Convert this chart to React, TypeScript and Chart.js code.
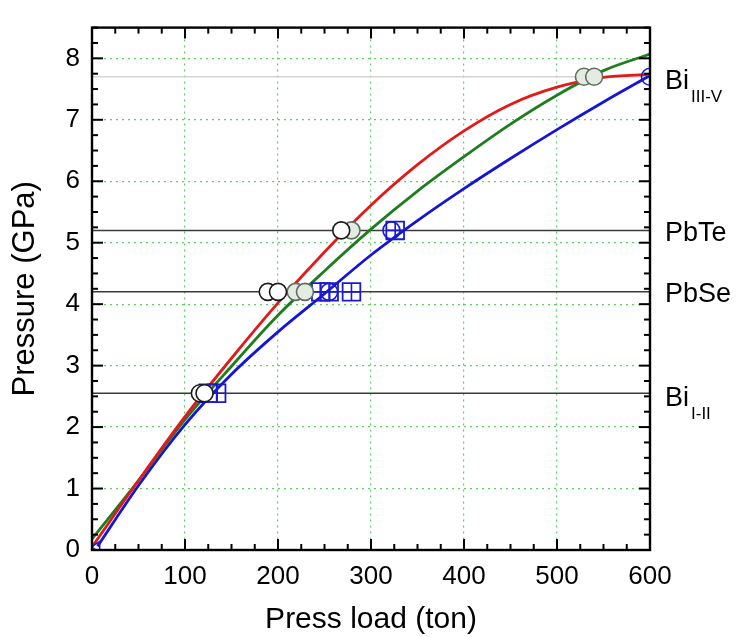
import React, { useEffect, useRef } from "react";
import { Chart, registerables } from "chart.js";
Chart.register(...registerables);

// ---------- data ----------
const curveLoads = [0, 50, 100, 150, 200, 250, 300, 350, 400, 450, 500, 550, 600];
const redPressure = [0.05, 1.13, 2.17, 3.12, 4.02, 4.85, 5.61, 6.27, 6.82, 7.25, 7.53, 7.69, 7.74];
const greenPressure = [0.18, 1.13, 2.12, 2.99, 3.82, 4.54, 5.22, 5.84, 6.4, 6.93, 7.4, 7.8, 8.07];
const blueLoads = [6, 50, 100, 150, 200, 250, 300, 350, 400, 450, 500, 550, 600];
const bluePressure = [0.06, 1.05, 2.04, 2.86, 3.55, 4.17, 4.8, 5.36, 5.88, 6.37, 6.84, 7.29, 7.72];

const blackCircleLoads = [116, 121, 189, 200, 268];
const blackCirclePressure = [2.55, 2.55, 4.2, 4.2, 5.2];
const greyCircleLoads = [219, 229, 279, 529, 540];
const greyCirclePressure = [4.2, 4.2, 5.2, 7.7, 7.7];
const blueSquareLoads = [125, 134, 246, 255, 279, 326];
const blueSquarePressure = [2.55, 2.55, 4.2, 4.2, 4.2, 5.2];
const blueCircleLoads = [255, 322, 600];
const blueCirclePressure = [4.2, 5.2, 7.7];
const originLoads = [5];
const originPressure = [0.05];

const refPressures = [7.7, 5.2, 4.2, 2.55];
const refColors = ["#d4d4d4", "#3a3a3a", "#3a3a3a", "#3a3a3a"];
const refMain = ["Bi", "PbTe", "PbSe", "Bi"];
const refSub = ["III-V", "", "", "I-II"];

const xTicks = [0, 100, 200, 300, 400, 500, 600];
const yTicks = [0, 1, 2, 3, 4, 5, 6, 7, 8];
const xMin = 0, xMax = 600, yMin = 0, yMax = 8.5;
const xMinorStep = 25, yMinorStep = 0.25;
const xTitle = "Press load (ton)";
const yTitle = "Pressure (GPa)";

const FONT = "'Liberation Sans', Arial, sans-serif";

const pts = (xs: number[], ys: number[]) => xs.map((x, i) => ({ x, y: ys[i] }));

const framePlugin = {
  id: "frameTicks",
  afterDraw(chart: any) {
    const { ctx, chartArea } = chart;
    const { left, right, top, bottom } = chartArea;
    const xs = chart.scales.x;
    const ys = chart.scales.y;
    ctx.save();
    ctx.strokeStyle = "#000";
    ctx.lineWidth = 2;
    const line = (a: number, b: number, c: number, d: number) => {
      ctx.beginPath();
      ctx.moveTo(a, b);
      ctx.lineTo(c, d);
      ctx.stroke();
    };
    const nx = Math.round((xMax - xMin) / xMinorStep);
    for (let i = 0; i <= nx; i++) {
      const v = xMin + i * xMinorStep;
      const px = xs.getPixelForValue(v);
      const len = i % 4 === 0 ? 11 : 6;
      line(px, bottom, px, bottom - len);
      line(px, top, px, top + len);
    }
    const ny = Math.round((yMax - yMin) / yMinorStep);
    for (let i = 0; i <= ny; i++) {
      const v = yMin + i * yMinorStep;
      const py = ys.getPixelForValue(v);
      const len = i % 4 === 0 ? 11 : 6;
      line(left, py, left + len, py);
      line(right, py, right - len, py);
    }
    ctx.lineWidth = 2.4;
    ctx.strokeRect(left, top, right - left, bottom - top);

    // right-hand labels
    ctx.fillStyle = "#000";
    ctx.textBaseline = "middle";
    ctx.textAlign = "left";
    refPressures.forEach((p, i) => {
      const py = ys.getPixelForValue(p);
      const x0 = right + 15;
      ctx.font = `27px ${FONT}`;
      const hasSub = refSub[i] !== "";
      const cy = hasSub ? py + 5 : py + 3;
      ctx.fillText(refMain[i], x0, cy);
      if (hasSub) {
        const w = ctx.measureText(refMain[i]).width;
        ctx.font = `17px ${FONT}`;
        ctx.fillText(refSub[i], x0 + w + 2, cy + 16);
      }
    });

    // axis titles
    ctx.textAlign = "center";
    ctx.textBaseline = "middle";
    ctx.font = `30px ${FONT}`;
    ctx.fillText(xTitle, (left + right) / 2, 620);
    ctx.save();
    ctx.translate(25, (top + bottom) / 2);
    ctx.rotate(-Math.PI / 2);
    ctx.font = `31px ${FONT}`;
    ctx.fillText(yTitle, 0, 0);
    ctx.restore();
    ctx.restore();
  },
};

export default function App() {
  const ref = useRef<HTMLCanvasElement | null>(null);
  useEffect(() => {
    if (!ref.current) return;
    const circle = (data: any, border: string, bg: string) => ({
      type: "line" as const,
      data,
      showLine: false,
      pointStyle: "circle",
      pointRadius: 8.5,
      pointBorderWidth: 1.6,
      pointBorderColor: border,
      pointBackgroundColor: bg,
      order: 0,
    });
    const refDatasets = refPressures.map((p, i) => ({
      type: "line" as const,
      data: [
        { x: xMin, y: p },
        { x: xMax, y: p },
      ],
      borderColor: refColors[i],
      borderWidth: 1.5,
      pointRadius: 0,
      order: 3,
    }));
    const curve = (xs: number[], ys: number[], color: string) => ({
      type: "line" as const,
      data: pts(xs, ys),
      borderColor: color,
      borderWidth: 2.8,
      pointRadius: 0,
      cubicInterpolationMode: "monotone" as const,
      order: 2,
    });
    const chart = new Chart(ref.current, {
      type: "line",
      data: {
        datasets: [
          ...refDatasets,
          curve(curveLoads, redPressure, "#e41a1a"),
          curve(curveLoads, greenPressure, "#1e7d1e"),
          curve(blueLoads, bluePressure, "#1515d8"),
          circle(pts(blackCircleLoads, blackCirclePressure), "#1a1a1a", "#ffffff"),
          circle(pts(greyCircleLoads, greyCirclePressure), "#5c6e5c", "#e3ebe3"),
          {
            ...circle(pts(blueCircleLoads, blueCirclePressure), "#1a1ad0", "rgba(255,255,255,0)"),
            clip: 0,
          },
          {
            type: "line" as const,
            data: pts(blueSquareLoads, blueSquarePressure),
            showLine: false,
            pointStyle: "rect",
            pointRadius: 12.5,
            pointBorderWidth: 1.8,
            pointBorderColor: "#1a1ad0",
            pointBackgroundColor: "rgba(255,255,255,0)",
            order: 0,
          },
          {
            type: "line" as const,
            data: pts(blueSquareLoads, blueSquarePressure),
            showLine: false,
            pointStyle: "cross",
            pointRadius: 8.8,
            pointBorderWidth: 1.6,
            pointBorderColor: "#1a1ad0",
            order: 0,
          },
          {
            type: "line" as const,
            data: pts(originLoads, originPressure),
            showLine: false,
            pointStyle: "triangle",
            rotation: -90,
            pointRadius: 6,
            pointBorderWidth: 1.6,
            pointBorderColor: "#1a1ad0",
            pointBackgroundColor: "rgba(255,255,255,0)",
            order: 0,
          },
        ] as any,
      },
      options: {
        responsive: false,
        animation: false,
        layout: { padding: { left: 0, right: 86, top: 16, bottom: 0 } },
        plugins: { legend: { display: false }, tooltip: { enabled: false } },
        scales: {
          x: {
            type: "linear",
            min: xMin,
            max: xMax,
            afterBuildTicks: (s: any) => {
              s.ticks = xTicks.map((v) => ({ value: v }));
            },
            afterFit: (s: any) => {
              s.height = 87;
            },
            grid: { color: "#5fcf5f", lineWidth: 1.2, drawTicks: false },
            border: { display: false, dash: [2, 4] },
            ticks: { color: "#000", font: { family: FONT, size: 26 }, padding: 11, maxRotation: 0 },
          },
          y: {
            type: "linear",
            min: yMin,
            max: yMax,
            afterBuildTicks: (s: any) => {
              s.ticks = yTicks.map((v) => ({ value: v }));
            },
            afterFit: (s: any) => {
              s.width = 92;
            },
            grid: { color: "#5fcf5f", lineWidth: 1.2, drawTicks: false },
            border: { display: false, dash: [2, 4] },
            ticks: { color: "#000", font: { family: FONT, size: 26 }, padding: 12 },
          },
        },
      },
      plugins: [framePlugin],
    } as any);
    return () => chart.destroy();
  }, []);
  return (
    <div style={{ position: "fixed", left: 0, top: 0, width: 736, height: 637, background: "#fff" }}>
      <canvas ref={ref} width={736} height={637} style={{ width: 736, height: 637, display: "block" }} />
    </div>
  );
}
